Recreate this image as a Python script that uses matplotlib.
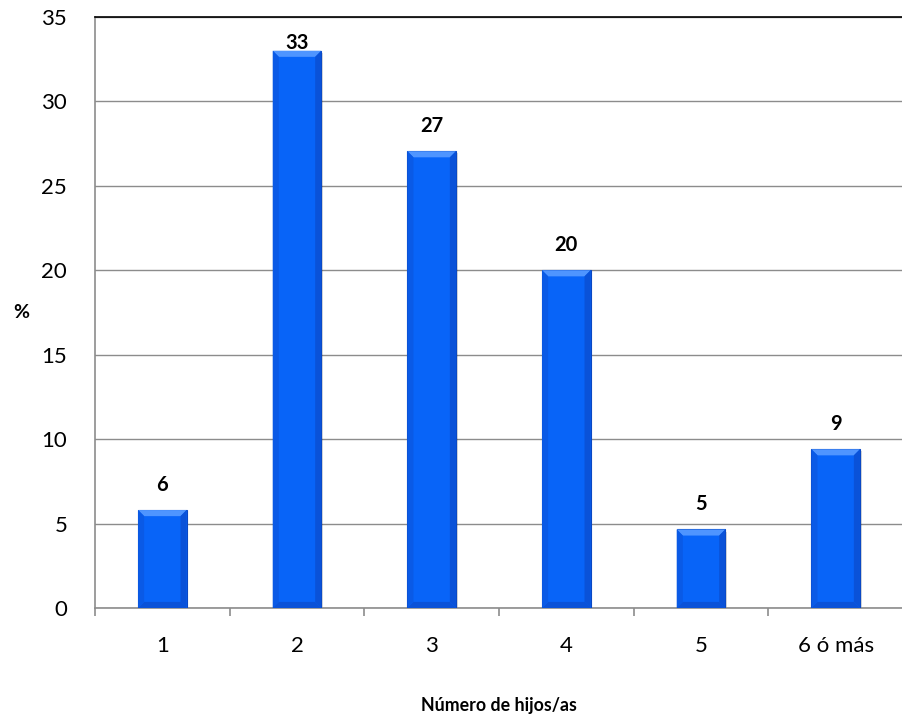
import matplotlib
matplotlib.use("Agg")
import matplotlib.pyplot as plt
from matplotlib.patches import Polygon, Rectangle

plt.rcParams['font.family'] = ['Lato', 'DejaVu Sans']

# porcentaje de hogares según número de hijos/as
categorias = ["1", "2", "3", "4", "5", "6 ó más"]
porcentajes = [5.8, 33.0, 27.05, 20.0, 4.65, 9.4]

fig = plt.figure(figsize=(9.02, 7.24), dpi=100)
ax = fig.add_axes([95 / 902, 116 / 724, 808 / 902, 591 / 724])

x = list(range(len(categorias)))
ancho = 0.36
barras = ax.bar(x, porcentajes, width=ancho, color="#0864f8",
                edgecolor="#0a48c4", linewidth=0.8, zorder=3)

# biselado de cada barra (bordes claros arriba, oscuros abajo y a los lados)
bx = 0.045
by = 0.36
for b in barras:
    x0, y0 = b.get_x(), b.get_y()
    w, h = b.get_width(), b.get_height()
    x1, y1 = x0 + w, y0 + h
    # sombra
    ax.add_patch(Rectangle((x0 + 0.012, y0 - 0.12), w, h, color="#000000",
                           alpha=0.15, lw=0, zorder=2))
    caras = [
        ([(x0, y1), (x1, y1), (x1 - bx, y1 - by), (x0 + bx, y1 - by)], "#4f95ff"),
        ([(x0, y0), (x1, y0), (x1 - bx, y0 + by), (x0 + bx, y0 + by)], "#0a52d8"),
        ([(x0, y0), (x0, y1), (x0 + bx, y1 - by), (x0 + bx, y0 + by)], "#0a5ae6"),
        ([(x1, y0), (x1, y1), (x1 - bx, y1 - by), (x1 - bx, y0 + by)], "#0a52d8"),
    ]
    for pts, c in caras:
        ax.add_patch(Polygon(pts, closed=True, color=c, lw=0, zorder=4))

# etiquetas de valor
for xi, v in zip(x, porcentajes):
    yl = min(v + 1.48, 35 - 1.54)
    ax.text(xi, yl, f"{v:.0f}", ha="center", va="center",
            fontsize=14.5, fontweight="bold", zorder=5)

ax.set_xlim(-0.5, 5.5)
ax.set_ylim(0, 35)
ax.set_yticks(range(0, 36, 5))
ax.yaxis.grid(True, color="#8c8c8c", linewidth=1.0, zorder=0)
ax.set_axisbelow(True)

ax.set_xticks(x)
ax.set_xticklabels(categorias)
ax.set_xticks([i - 0.5 for i in range(len(categorias) + 1)], minor=True)
ax.tick_params(axis="x", which="major", length=0, pad=20, labelsize=16)
ax.tick_params(axis="x", which="minor", length=6, width=1.2, color="#8c8c8c")
ax.tick_params(axis="y", length=0, pad=20, labelsize=16)

for s in ["left", "bottom"]:
    ax.spines[s].set_color("#8c8c8c")
    ax.spines[s].set_linewidth(1.2)
ax.spines["right"].set_visible(False)
ax.spines["top"].set_color("black")
ax.spines["top"].set_linewidth(1.2)

fig.text(21 / 902, 1 - 313 / 724, "%", ha="center", va="center",
         fontsize=14, fontweight="bold")
fig.text(499 / 902, 1 - 705 / 724, "Número de hijos/as", ha="center",
         va="center", fontsize=12.8, fontweight="bold")

fig.savefig("out.png", dpi=100)
